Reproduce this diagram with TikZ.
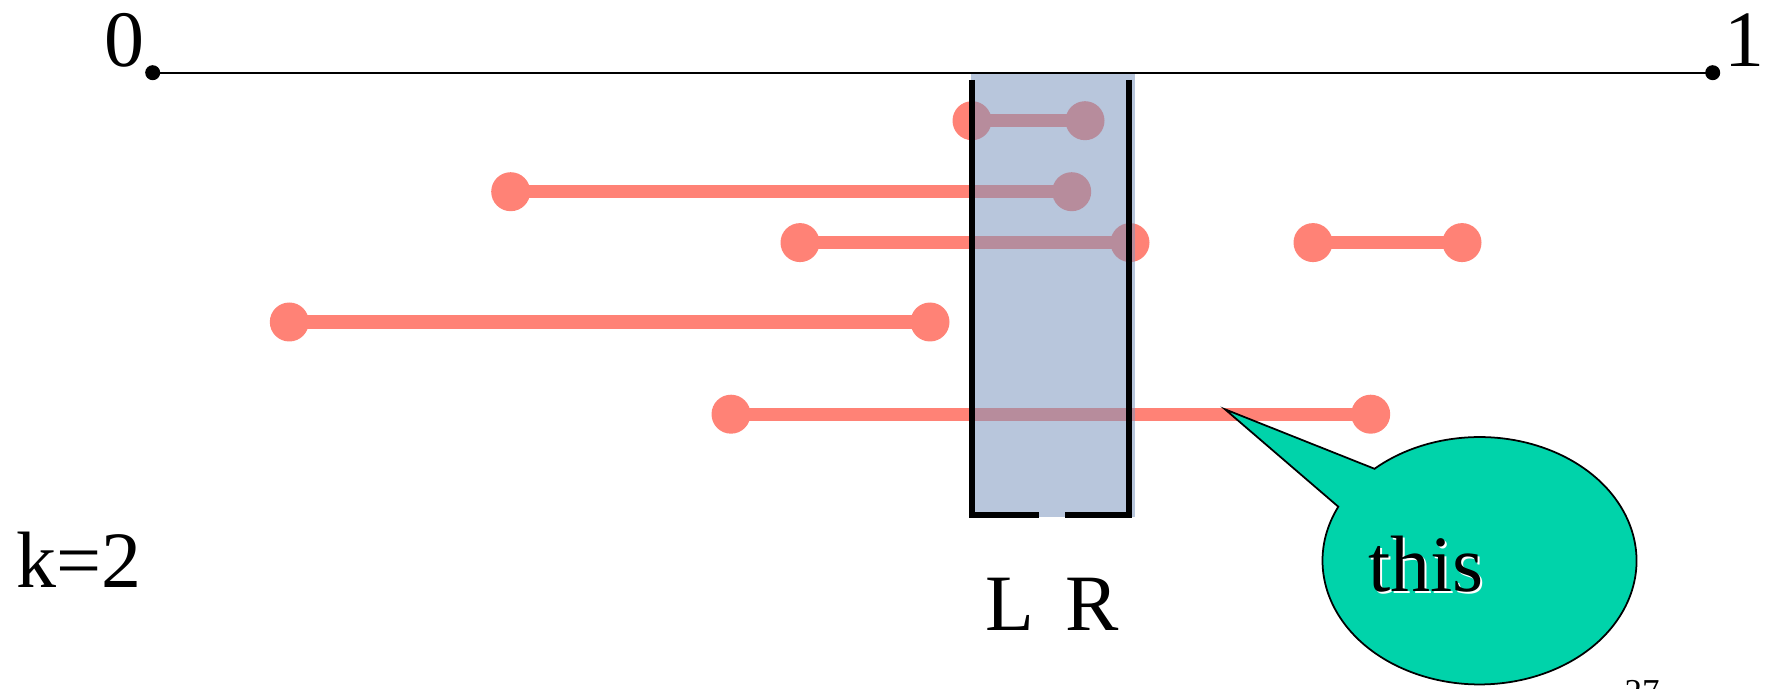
\documentclass[tikz,border=0pt]{standalone}
\usepackage{fontspec}
\setmainfont{Liberation Serif}
\definecolor{salmon}{HTML}{FF8276}
\definecolor{winblue}{HTML}{7B95BE}
\definecolor{teal}{HTML}{00D3AA}
\tikzset{
  seg/.style={salmon, line width=7.6pt},
  segdot/.style={fill=salmon},
  bigtext/.style={font=\fontsize{45.5}{50}\selectfont, inner sep=0pt, anchor=base},
  bracket/.style={black, line width=3.2pt},
}
\begin{document}
\begin{tikzpicture}[x=0.02cm, y=-0.02cm]
\useasboundingbox (0,0) rectangle (1769,689);
% axis
\coordinate (z) at (152.7,72.7);
\coordinate (o) at (1712.7,72.7);
\draw[line width=1.13pt] (z) -- (o);
\fill (z) circle (7.5);
\fill (o) circle (7.5);
\node[bigtext] (zl) at (124,67) {0};
\node[bigtext] (ol) at (1744,67) {1};
% intervals
\foreach \n/\xa/\xb/\yy in {a/972/1085/120.7, b/510.7/1071.7/191.7, c/800/1130/242.6, d/1313/1462/242.6, e/289.3/930/322, f/731/1370.7/414.2}{
  \coordinate (\n1) at (\xa,\yy);
  \coordinate (\n2) at (\xb,\yy);
  \draw[seg] (\n1) -- (\n2);
  \fill[segdot] (\n1) circle (19.5);
  \fill[segdot] (\n2) circle (19.5);
}
% window
\fill[winblue, opacity=0.54] (971,74) rectangle (1135,517);
\coordinate (wl) at (972,80);
\coordinate (wr) at (1129,80);
\coordinate (bl) at (972,515);
\coordinate (br) at (1129,515);
\coordinate (gl) at (1039,515);
\coordinate (gr) at (1065,515);
\draw[bracket, line join=miter] (wl) -- (bl) -- (gl);
\draw[bracket, line join=miter] (wr) -- (br) -- (gr);
\node[bigtext] (L) at (1010,630) {L};
\node[bigtext] (R) at (1092,630) {R};
\node[bigtext, anchor=base west] (k) at (16,587) {k=2};
% callout
\coordinate (tip) at (1225,409.3);
\coordinate (ca) at (1373.3,468.3);
\coordinate (cb) at (1338.3,506.7);
\draw[fill=teal, line width=1pt, line join=miter]
  (ca) -- (tip) -- (cb) arc[start angle=205.9, end angle=-132, x radius=157, y radius=123.7] -- cycle;
\node[bigtext, white] at (1428,593.5) {this};
\node[bigtext] (this) at (1426,591.7) {this};
\node[inner sep=0pt, anchor=north, font=\fontsize{19.9}{22}\selectfont] (pg) at (1642,680) {27};
\end{tikzpicture}
\end{document}
